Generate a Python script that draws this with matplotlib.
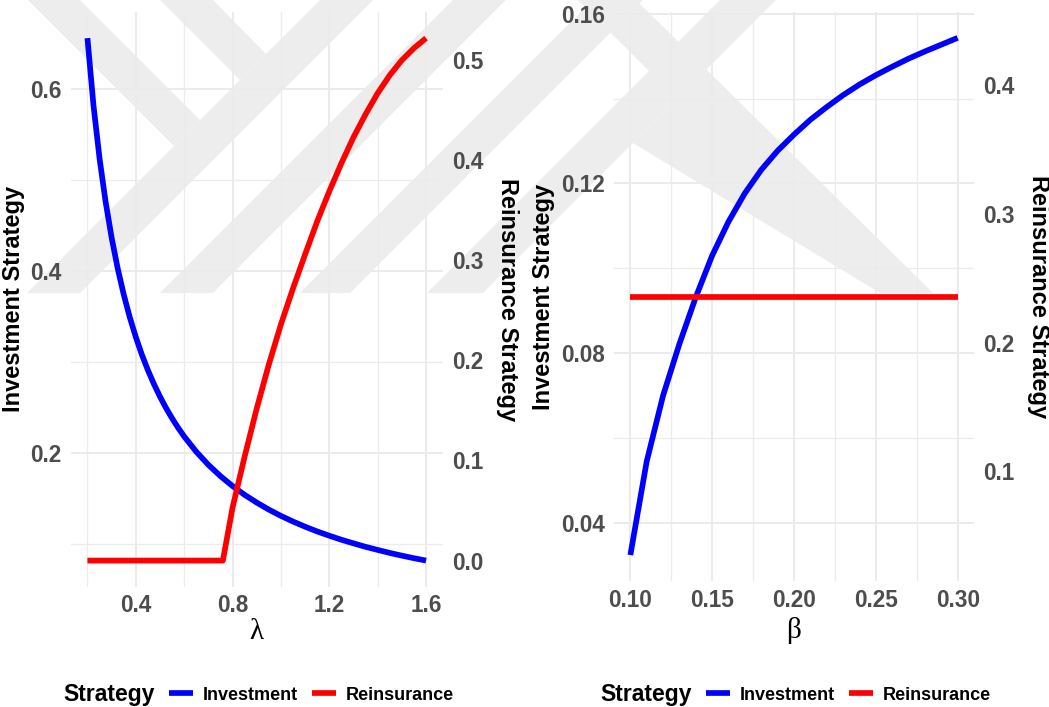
import matplotlib.pyplot as plt
from matplotlib.lines import Line2D
from matplotlib.patches import Polygon
from matplotlib.ticker import FixedLocator, FormatStrFormatter

plt.rcParams['font.family'] = ['Liberation Sans', 'DejaVu Sans']
plt.rcParams['font.weight'] = 'bold'
plt.rcParams['axes.labelweight'] = 'bold'

W, H = 1049, 707
BLUE, RED = '#0000FF', '#FF0000'
GRID = '#EBEBEB'
TICK = '#4D4D4D'

# optimal strategies against lambda
lam = [0.200, 0.225, 0.250, 0.275, 0.300, 0.325, 0.350, 0.375, 0.400, 0.425,
       0.450, 0.475, 0.500, 0.525, 0.550, 0.575, 0.600, 0.65, 0.70, 0.75,
       0.80, 0.85, 0.90, 0.95, 1.00, 1.05, 1.10, 1.15, 1.20, 1.25, 1.30, 1.35,
       1.40, 1.45, 1.50, 1.55, 1.60]
invest_lam = [0.6560, 0.5822, 0.5240, 0.4764, 0.4367, 0.4031, 0.3743, 0.3493,
              0.3275, 0.3082, 0.2911, 0.2758, 0.2620, 0.2495, 0.2382, 0.2278,
              0.2183, 0.2015, 0.1871, 0.1747, 0.1638, 0.1541, 0.1456, 0.1379,
              0.1310, 0.1248, 0.1191, 0.1139, 0.1092, 0.1048, 0.1008, 0.0970,
              0.0936, 0.0903, 0.0873, 0.0845, 0.0819]
lam_reins = [0.20, 0.76, 0.80, 0.85, 0.90, 0.95, 1.00, 1.05, 1.10, 1.15, 1.20,
             1.25, 1.30, 1.35, 1.40, 1.45, 1.50, 1.55, 1.60]
reins_lam = [0.0, 0.0, 0.053, 0.104, 0.152, 0.196, 0.236, 0.272, 0.306, 0.339,
             0.369, 0.397, 0.423, 0.446, 0.467, 0.485, 0.500, 0.512, 0.522]

# optimal strategies against beta
beta = [0.10, 0.11, 0.12, 0.13, 0.14, 0.15, 0.16, 0.17, 0.18, 0.19, 0.20,
        0.21, 0.22, 0.23, 0.24, 0.25, 0.26, 0.27, 0.28, 0.29, 0.30]
invest_beta = [0.0324, 0.0545, 0.0700, 0.0822, 0.0932, 0.1030, 0.1110, 0.1177,
               0.1232, 0.1277, 0.1315, 0.1350, 0.1380, 0.1408, 0.1433, 0.1455,
               0.1475, 0.1494, 0.1511, 0.1527, 0.1543]
beta_reins = [0.10, 0.30]
reins_beta = [0.2356, 0.2356]

# background logo bands, pixel coords (y down)
logo_bands = [
    [(28, 0), (80, 0), (200, 120), (174, 146)],
    [(160, 0), (213, 0), (266, 54), (240, 80)],
    [(27, 293), (80, 293), (373, 0), (320, 0)],
    [(160, 293), (213, 293), (506, 0), (453, 0)],
    [(300, 293), (350, 293), (643, 0), (593, 0)],
    [(427, 293), (483, 293), (776, 0), (720, 0)],
    [(578, 0), (636, 0), (933, 293), (880, 293), (633, 143), (677, 99)],
]


def px(x, y):
    return x / W, 1 - y / H


def strategy_panel(ax, x, invest, x_reins, reins, xmaj, xmin, ymaj, ymin,
                   rmaj, xfmt, yfmt, rlim=None):
    ax.set_facecolor('none')
    ax.plot(x, invest, color=BLUE, lw=4.1, solid_capstyle='butt')
    ax.set_axisbelow(True)
    ax.xaxis.set_major_locator(FixedLocator(xmaj))
    ax.xaxis.set_minor_locator(FixedLocator(xmin))
    ax.yaxis.set_major_locator(FixedLocator(ymaj))
    ax.yaxis.set_minor_locator(FixedLocator(ymin))
    ax.xaxis.set_major_formatter(FormatStrFormatter(xfmt))
    ax.yaxis.set_major_formatter(FormatStrFormatter(yfmt))
    ax.grid(which='major', color=GRID, lw=1.4)
    ax.grid(which='minor', color=GRID, lw=0.9)
    ax.tick_params(which='both', length=0, labelsize=16.3, labelcolor=TICK)
    ax.tick_params(axis='y', pad=6.5)
    ax.tick_params(axis='x', pad=5.5)

    ax2 = ax.twinx()
    ax2.plot(x_reins, reins, color=RED, lw=4.1, solid_capstyle='butt')
    ax2.yaxis.set_major_locator(FixedLocator(rmaj))
    ax2.yaxis.set_major_formatter(FormatStrFormatter('%.1f'))
    ax2.tick_params(length=0, labelsize=16.3, labelcolor=TICK, pad=6.3)
    if rlim is not None:
        ax2.set_ylim(*rlim)
    for a in (ax, ax2):
        for s in a.spines.values():
            s.set_visible(False)
    return ax2


fig = plt.figure(figsize=(W / 100, H / 100), dpi=100)

for band in logo_bands:
    fig.add_artist(Polygon([px(*p) for p in band], closed=True,
                           transform=fig.transFigure, facecolor='#EDEDED',
                           edgecolor='none', zorder=-1))

# left: lambda
ax_l = fig.add_axes([70.5 / W, 1 - 586.7 / H, 372.5 / W, 574.7 / H])
ax_l2 = strategy_panel(ax_l, lam, invest_lam, lam_reins, reins_lam,
                       [0.4, 0.8, 1.2, 1.6], [0.2, 0.6, 1.0, 1.4],
                       [0.2, 0.4, 0.6], [0.1, 0.3, 0.5],
                       [0.0, 0.1, 0.2, 0.3, 0.4, 0.5], '%.1f', '%.1f')
ax_l.set_ylabel('Investment Strategy', fontsize=17, va='center')
ax_l.yaxis.set_label_coords(-0.154, 0.5)
ax_l2.set_ylabel('Reinsurance Strategy', fontsize=17, rotation=270,
                 va='center')
ax_l2.yaxis.set_label_coords(1.172, 0.5)
ax_l.set_xlabel('λ', family='Liberation Serif', fontweight='normal',
                fontsize=21, va='center')
ax_l.xaxis.set_label_coords(0.5, -0.078)

# right: beta
ax_r = fig.add_axes([614 / W, 1 - 580.9 / H, 360 / W, 568.9 / H])
ax_r2 = strategy_panel(ax_r, beta, invest_beta, beta_reins, reins_beta,
                       [0.10, 0.15, 0.20, 0.25, 0.30],
                       [0.125, 0.175, 0.225, 0.275],
                       [0.04, 0.08, 0.12, 0.16], [0.06, 0.10, 0.14],
                       [0.1, 0.2, 0.3, 0.4], '%.2f', '%.2f',
                       rlim=(0.015, 0.457))
ax_r.set_ylabel('Investment Strategy', fontsize=17, va='center')
ax_r.yaxis.set_label_coords(-0.197, 0.5)
ax_r2.set_ylabel('Reinsurance Strategy', fontsize=17, rotation=270,
                 va='center')
ax_r2.yaxis.set_label_coords(1.178, 0.5)
ax_r.set_xlabel('β', family='Liberation Serif', fontweight='normal',
                fontsize=21, va='center')
ax_r.xaxis.set_label_coords(0.5, -0.088)

# legends under each panel
handles = [Line2D([], [], color=BLUE, lw=4.1, solid_capstyle='butt'),
           Line2D([], [], color=RED, lw=4.1, solid_capstyle='butt')]
for title_x, keys_x in [(63, 169), (600, 706)]:
    fig.text(*px(title_x, 695), 'Strategy', fontsize=16.5, ha='left',
             va='center')
    fig.legend(handles, ['Investment', 'Reinsurance'], loc='center left',
               bbox_to_anchor=px(keys_x, 695), ncol=2, frameon=False,
               fontsize=13, handlelength=1.33, handletextpad=0.55,
               columnspacing=0.78, borderpad=0, borderaxespad=0)

fig.savefig('out.png', dpi=100)
